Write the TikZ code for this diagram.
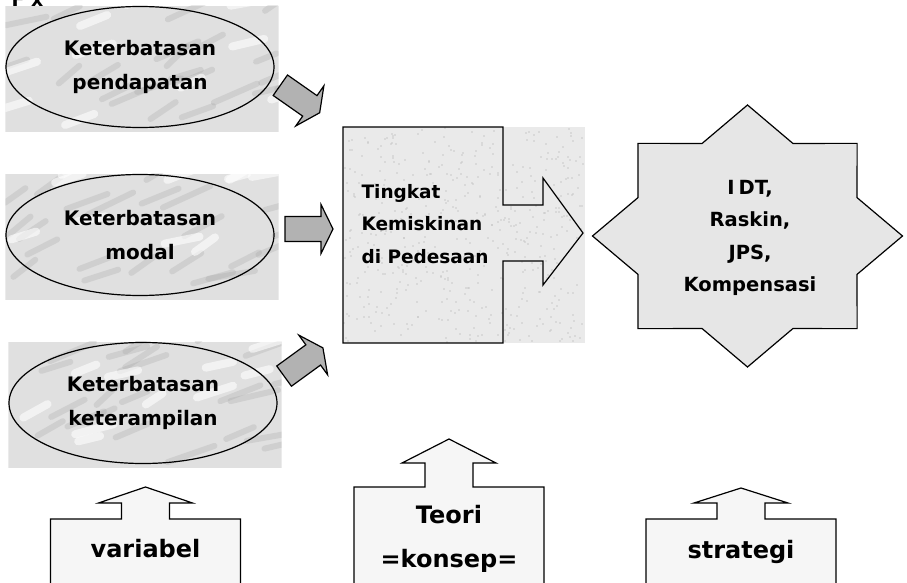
\documentclass[tikz,border=0pt]{standalone}
\usepackage{fontspec}
\setmainfont{DejaVu Sans}
\usetikzlibrary{shapes,positioning,calc,backgrounds}

\definecolor{marble}{RGB}{224,224,224}
\definecolor{vein}{RGB}{150,150,150}
\definecolor{speckle}{RGB}{234,234,234}
\definecolor{starfill}{RGB}{230,230,230}
\definecolor{arrowgray}{RGB}{178,178,178}
\definecolor{paper}{RGB}{246,246,246}

\tikzstyle{factor} = [ellipse, draw, line width=1.2pt, minimum width=268pt,
    minimum height=121pt, align=center, font=\bfseries\fontsize{20}{34}\selectfont]
\tikzstyle{basetext} = [align=center, font=\bfseries\fontsize{24}{44}\selectfont]

\tikzset{
  pics/grayarrow/.style={code={
    \draw[line width=1.2pt, fill=arrowgray] (-24,-12.5) -- (12,-12.5) -- (12,-24.5)
      -- (24,0) -- (12,24.5) -- (12,12.5) -- (-24,12.5) -- cycle;}},
  pics/basebox/.style 2 args={code={
    \draw[line width=1.2pt, fill=paper] (-95,120) -- (-95,0) -- (-24,0) -- (-24,-#1)
      -- (-47,-#1) -- (0,-#1-#2) -- (47,-#1) -- (24,-#1) -- (24,0) -- (95,0) -- (95,120);}}
}

\begin{document}
\begin{tikzpicture}[x=1pt,y=-1pt,node distance=168pt,line join=miter]
  \useasboundingbox (0,0) rectangle (907,583);
  \clip (0,0) rectangle (907,583);
  \pgfmathsetseed{11}

  \node[anchor=base west,font=\bfseries\fontsize{19}{19}\selectfont] (fx) at (8,7) {F x};

  % faktor penyebab
  \node[factor] (f1) at (140,67) {Keterbatasan\\pendapatan};
  \node[factor] (f2) [below of=f1] {Keterbatasan\\modal};
  \node[factor] (f3) [below of=f2,xshift=3pt] {Keterbatasan\\keterampilan};
  \begin{scope}[on background layer]
    \foreach \f in {f1,f2,f3} {
      \begin{scope}
        \clip (\f.west |- \f.north) rectangle ($(\f.east |- \f.south)+(4,4)$);
        \fill[marble] (\f.west |- \f.north) rectangle ($(\f.east |- \f.south)+(4,4)$);
        \foreach \i in {1,...,22}
          \draw[vein, opacity=.22, line width=6pt, line cap=round]
            ($(\f)+({rand*140},{rand*62})$) -- ++({20+rnd*30},{-8-rnd*14});
        \foreach \i in {1,...,10}
          \draw[white, opacity=.6, line width=8pt, line cap=round]
            ($(\f)+({rand*140},{rand*62})$) -- ++({15+rnd*25},{-5-rnd*10});
      \end{scope}}
  \end{scope}

  % kemiskinan
  \fill[speckle] (343,127) rectangle (585,343);
  \foreach \i in {1,...,500}
    \fill[gray!45, opacity=.45] ({343+rnd*240},{127+rnd*214}) rectangle ++(2,2);
  \draw[line width=1.2pt] (343,127) -- (503,127) -- (503,205) -- (543,205) -- (543,178)
    -- (583,233) -- (543,285) -- (543,261) -- (503,261) -- (503,343) -- (343,343) -- cycle;
  \node[anchor=west,align=left,font=\bfseries\fontsize{18.5}{32.5}\selectfont] (pov)
    at (358,224) {Tingkat\\Kemiskinan\\di Pedesaan};

  \pic[rotate=-35] at (300,99) {grayarrow};
  \pic at (309,229) {grayarrow};
  \pic[rotate=36] at (303.5,362) {grayarrow};

  % strategi
  \draw[line width=1.2pt, fill=starfill] (747.5,236) +(0:155 and 131)
    \foreach \a in {0,45,...,315} { -- +(\a+22.5:118.6 and 100.2) -- +(\a+45:155 and 131) } -- cycle;
  \node[align=center,font=\bfseries\fontsize{19.5}{32.5}\selectfont] (sol) at (750,238)
    {I\hspace{4pt}DT,\\Raskin,\\JPS,\\Kompensasi};

  % keterangan
  \pic at (145.5,519) {basebox={16}{16}};
  \pic at (449,487) {basebox={24}{24}};
  \pic at (741,519) {basebox={16}{15}};
  \node[basetext,anchor=base] (var) at (145.5,557) {variabel};
  \node[basetext] (teo) at (449,539) {Teori\\=konsep=};
  \node[basetext,anchor=base] (str) at (741,558) {strategi};
\end{tikzpicture}
\end{document}
